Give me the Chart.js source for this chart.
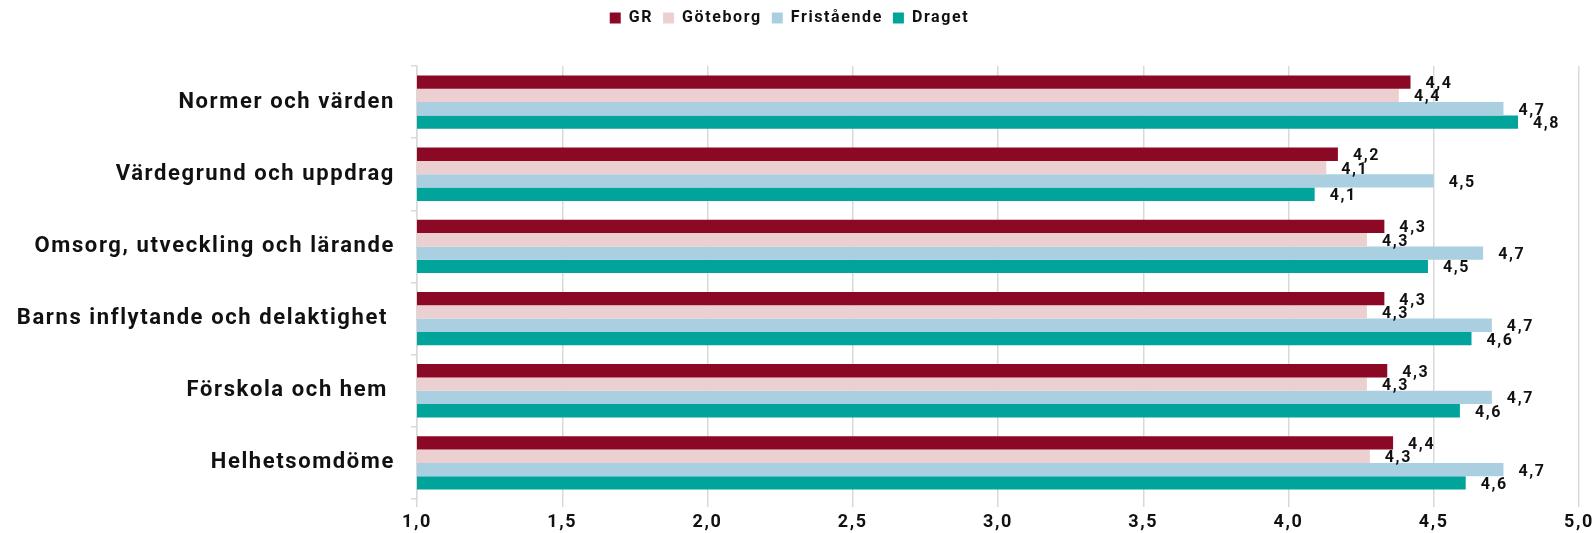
<!DOCTYPE html>
<html>
<head>
<meta charset="utf-8">
<script src="https://cdn.jsdelivr.net/npm/chart.js@4"></script>
<style>
  html, body { margin: 0; padding: 0; background: #fff; }
  #wrap { width: 1595px; height: 533px; }
</style>
</head>
<body>
<div id="wrap"><canvas id="chart"></canvas></div>
<script>
// data
let categories = ["Normer och värden", "Värdegrund och uppdrag", "Omsorg, utveckling och lärande", "Barns inflytande och delaktighet ", "Förskola och hem ", "Helhetsomdöme"];
let gr = [4.42, 4.17, 4.33, 4.33, 4.34, 4.36];
let goteborg = [4.38, 4.13, 4.27, 4.27, 4.27, 4.28];
let fristaende = [4.74, 4.50, 4.67, 4.70, 4.70, 4.74];
let draget = [4.79, 4.09, 4.48, 4.63, 4.59, 4.61];
let xTicks = [1.0, 1.5, 2.0, 2.5, 3.0, 3.5, 4.0, 4.5, 5.0];

Chart.defaults.font.family = "Roboto, 'Liberation Sans', sans-serif";
Chart.defaults.font.weight = "bold";
Chart.defaults.color = "#111";

function fmt(v) {
    return v.toFixed(1).replace(".", ",");
}

// letter spacing like the original font
const spacing = {
    id: "spacing",
    beforeUpdate(chart) { chart.ctx.letterSpacing = "1.6px"; },
    beforeDraw(chart) { chart.ctx.letterSpacing = "1.6px"; }
};

// push chart area down under the legend
const legendSpacer = {
    id: "legendSpacer",
    beforeInit(chart) {
        const fit = chart.legend.fit;
        chart.legend.fit = function () {
            fit.bind(chart.legend)();
            this.height += 30;
        };
    }
};

// value labels at bar ends
const valueLabels = {
    id: "valueLabels",
    afterDatasetsDraw(chart) {
        let ctx = chart.ctx;
        ctx.save();
        ctx.letterSpacing = "1.6px";
        ctx.font = "bold 16px Roboto, 'Liberation Sans', sans-serif";
        ctx.fillStyle = "#111";
        ctx.textAlign = "left";
        ctx.textBaseline = "middle";
        chart.data.datasets.forEach((ds, i) => {
            let meta = chart.getDatasetMeta(i);
            meta.data.forEach((bar, j) => {
                ctx.fillText(fmt(ds.data[j]), bar.x + 15, bar.y + 2);
            });
        });
        ctx.restore();
    }
};

let ctx = document.getElementById("chart").getContext("2d");

let chart = new Chart(ctx, {
    type: "bar",
    data: {
        labels: categories,
        datasets: [
            { label: "GR", data: gr, backgroundColor: "#8b0925" },
            { label: "Göteborg", data: goteborg, backgroundColor: "#ecd0d1" },
            { label: "Fristående", data: fristaende, backgroundColor: "#aacfe0" },
            { label: "Draget", data: draget, backgroundColor: "#00a49b" }
        ]
    },
    options: {
        indexAxis: "y",
        responsive: true,
        maintainAspectRatio: false,
        animation: false,
        datasets: {
            bar: {
                categoryPercentage: 0.74,
                barPercentage: 1.0,
                borderWidth: 0
            }
        },
        layout: {
            padding: { top: 0, right: 16, bottom: 0, left: 0 }
        },
        plugins: {
            legend: {
                position: "top",
                labels: {
                    boxWidth: 11,
                    boxHeight: 11,
                    padding: 10,
                    color: "#111",
                    font: { size: 16, weight: "bold" }
                }
            },
            tooltip: { enabled: false }
        },
        scales: {
            x: {
                min: 1,
                max: 5,
                afterBuildTicks(scale) {
                    scale.ticks = xTicks.map(v => ({ value: v }));
                },
                afterFit(scale) {
                    scale.height = 34;
                    scale.paddingRight = 0;
                    scale.paddingLeft = 0;
                },
                grid: {
                    color: "#d9d9d9",
                    lineWidth: 1.5,
                    tickLength: 8
                },
                border: { display: false },
                ticks: {
                    padding: 5,
                    color: "#111",
                    font: { size: 18, weight: "bold" },
                    callback: v => fmt(v)
                }
            },
            y: {
                afterFit(scale) {
                    scale.width = 417;
                },
                grid: {
                    display: true,
                    drawOnChartArea: false,
                    drawTicks: true,
                    tickLength: 6,
                    color: "#d9d9d9",
                    lineWidth: 1.5
                },
                border: { display: true, color: "#d9d9d9", width: 1.5 },
                ticks: {
                    padding: 16,
                    color: "#111",
                    font: { size: 22, weight: "bold" }
                }
            }
        }
    },
    plugins: [spacing, legendSpacer, valueLabels]
});
</script>
</body>
</html>
